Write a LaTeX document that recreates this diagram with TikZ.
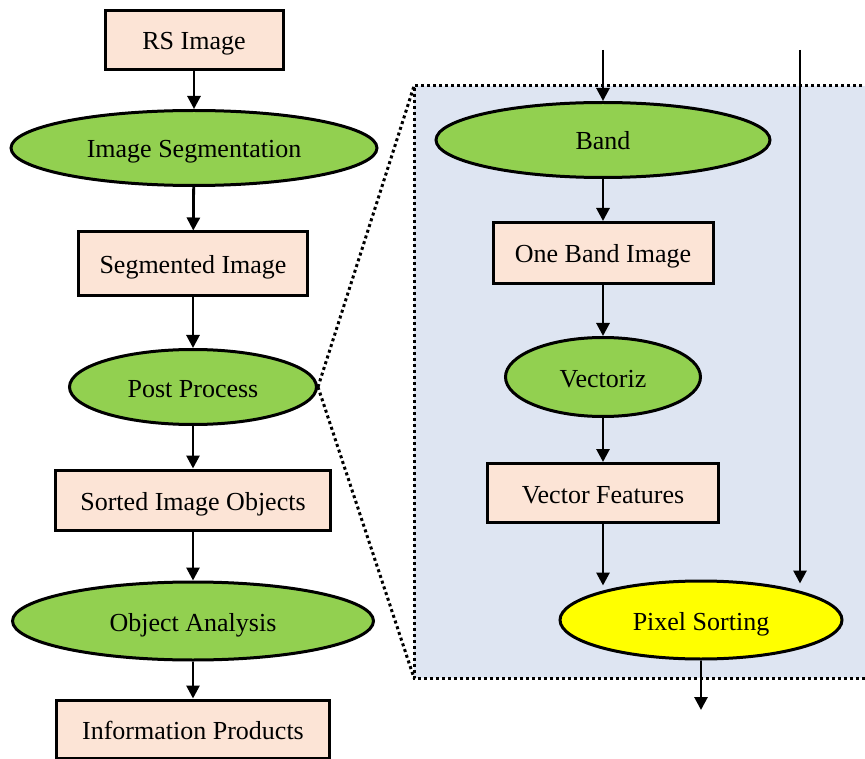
\documentclass[tikz,border=0pt]{standalone}
\usepackage{fontspec}
\setmainfont{Liberation Serif}
\usetikzlibrary{shapes.geometric,arrows.meta}

\begin{document}
\begin{tikzpicture}[x=1pt,y=1pt,
		font=\fontsize{26}{30}\selectfont,
		box/.style={draw=black, line width=3pt, fill=boxcolor, inner sep=0pt, text height=22pt, text depth=2pt},
		oval/.style={ellipse, draw=black, line width=3pt, fill=ovalcolor, inner sep=0pt, text height=22pt, text depth=2pt},
		flow/.style={line width=2.8pt, -{Triangle[length=13pt,width=13pt]}},
		zoomline/.style={line width=3pt, dash pattern=on 3pt off 3pt}]
		
		% Define colors
		\definecolor{boxcolor}{RGB}{252, 228, 214}
		\definecolor{ovalcolor}{RGB}{146, 208, 80}
		\definecolor{sortcolor}{RGB}{255, 255, 0}
		\definecolor{panelcolor}{RGB}{222, 229, 242}
		
		\useasboundingbox (0,0) rectangle (865,-759);
		\clip (0,0) rectangle (865,-759);
		
		% Draw the detail panel
		\fill[panelcolor] (414,-86) rectangle (880,-678);
		\draw[zoomline] (880,-86) -- (414,-86) -- (414,-678) -- (880,-678);
		
		% Left chain
		\node[box, minimum width=178pt, minimum height=59pt] (rs) at (194,-40) {RS Image};
		\node[oval, minimum width=366pt, minimum height=75pt] (seg) at (194,-148) {Image Segmentation};
		\node[box, minimum width=229pt, minimum height=64pt] (segimg) at (193,-264) {Segmented Image};
		\node[oval, minimum width=247pt, minimum height=75pt] (post) at (193,-387) {Post Process};
		\node[box, minimum width=275pt, minimum height=60pt] (sorted) at (193,-500) {Sorted Image Objects};
		\node[oval, minimum width=361pt, minimum height=78pt] (obj) at (193,-621) {Object Analysis};
		\node[box, minimum width=273pt, minimum height=58pt] (info) at (193,-729) {Information Products};
		
		% Zoom lines
		\draw[zoomline] (post.east) -- (414,-86);
		\draw[zoomline] (post.east) -- (414,-678);
		
		% Right chain
		\node[oval, minimum width=334pt, minimum height=75pt] (band) at (603,-140) {Band};
		\node[box, minimum width=220pt, minimum height=61pt] (oneband) at (603,-253) {One Band Image};
		\node[oval, minimum width=195pt, minimum height=79pt] (vec) at (603,-377) {Vectoriz};
		\node[box, minimum width=231pt, minimum height=59pt] (vecfeat) at (603,-493) {Vector Features};
		\node[oval, fill=sortcolor, minimum width=282pt, minimum height=78pt] (pix) at (701,-620) {Pixel Sorting};
		
		\coordinate (bandin) at (603,-50);
		\coordinate (pixin) at (800,-50);
		\coordinate (pixout) at (701,-710);
		
		% Arrows
		\draw[flow] (rs) -- (seg);
		\draw[flow] (seg) -- (segimg);
		\draw[flow] (segimg) -- (post);
		\draw[flow] (post) -- (sorted);
		\draw[flow] (sorted) -- (obj);
		\draw[flow] (obj) -- (info);
		
		\draw[flow] (bandin) -- (band);
		\draw[flow] (band) -- (oneband);
		\draw[flow] (oneband) -- (vec);
		\draw[flow] (vec) -- (vecfeat);
		\draw[flow] (vecfeat.south) -- ([yshift=-6pt]vecfeat.south |- pix.north);
		\draw[flow] (pixin) -- ([yshift=-4pt]pixin |- pix.north);
		\draw[flow] (pix) -- (pixout);
	\end{tikzpicture}
\end{document}
